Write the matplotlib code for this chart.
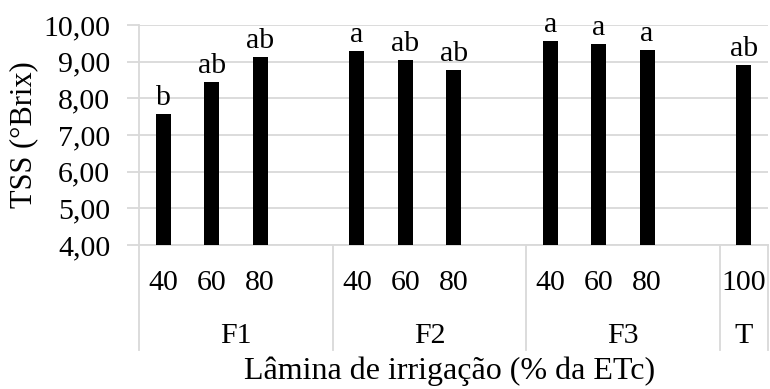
import matplotlib
matplotlib.use("Agg")
import matplotlib.pyplot as plt
from matplotlib.lines import Line2D
import matplotlib.transforms as mtransforms

plt.rcParams['font.family'] = ['Liberation Serif', 'DejaVu Serif']

groups = ["F1", "F2", "F3", "T"]
levels = [["40", "60", "80"], ["40", "60", "80"], ["40", "60", "80"], ["100"]]
values = [[7.57, 8.45, 9.14], [9.30, 9.04, 8.77], [9.57, 9.49, 9.33], [8.91]]
letters = [["b", "ab", "ab"], ["a", "ab", "ab"], ["a", "a", "a"], ["ab"]]

yticks = [4, 5, 6, 7, 8, 9, 10]
ytick_labels = ["4,00", "5,00", "6,00", "7,00", "8,00", "9,00", "10,00"]

W, H = 770, 389
fig = plt.figure(figsize=(W / 100, H / 100), dpi=100)
ax = fig.add_axes([139.3 / W, 1 - 245 / H, (768 - 139.3) / W, 220 / H])

grid_c = "#d9d9d9"
fs = 21.5

# build slot positions: each group gets its levels plus one blank slot (except last)
pos = 0
xs, vs, ls, lv = [], [], [], []
bounds = [pos - 0.5]
centers = []
for gi, g in enumerate(groups):
    for li, lev in enumerate(levels[gi]):
        xs.append(pos)
        vs.append(values[gi][li])
        ls.append(letters[gi][li])
        lv.append(lev)
        pos += 1
    if gi < len(groups) - 1:
        pos += 1
    bounds.append(pos - 0.5)
    centers.append((bounds[-2] + bounds[-1]) / 2)
nslots = pos

ax.bar(xs, vs, width=0.31, bottom=0, color="black", zorder=3)
ax.set_xlim(-0.5, nslots - 0.5)
ax.set_ylim(4, 10)
ax.set_yticks(yticks)
ax.set_yticklabels(ytick_labels, fontsize=fs)
ax.yaxis.grid(True, color=grid_c, linewidth=1.3, zorder=0)
ax.set_axisbelow(True)
ax.tick_params(axis="y", length=9, width=1.3, color=grid_c, pad=12)
ax.set_xticks([])
for s in ["top", "right"]:
    ax.spines[s].set_visible(False)
ax.spines["left"].set_color(grid_c)
ax.spines["left"].set_linewidth(1.3)
ax.spines["bottom"].set_color(grid_c)
ax.spines["bottom"].set_linewidth(1.3)

for x, v, l in zip(xs, vs, ls):
    ax.annotate(l, (x, v), xytext=(0, 2), textcoords="offset points",
                ha="center", va="bottom", fontsize=fs)

trans = mtransforms.blended_transform_factory(ax.transData, ax.transAxes)
for x, lev in zip(xs, lv):
    ax.text(x, -0.172, lev, transform=trans, ha="center", va="center", fontsize=fs)
for c, g in zip(centers, groups):
    ax.text(c, -0.415, g, transform=trans, ha="center", va="center", fontsize=fs)
for b in bounds:
    ax.add_line(Line2D([b, b], [0, -0.477], transform=trans, color=grid_c,
                       linewidth=1.3, clip_on=False))

fig.text(450 / W, 1 - 371 / H, "Lâmina de irrigação (% da ETc)", ha="center",
         va="center", fontsize=23)
fig.text(24 / W, 1 - 135 / H, "TSS (°Brix)", ha="center", va="center",
         rotation=90, fontsize=22)

fig.savefig("out.png", dpi=100)
